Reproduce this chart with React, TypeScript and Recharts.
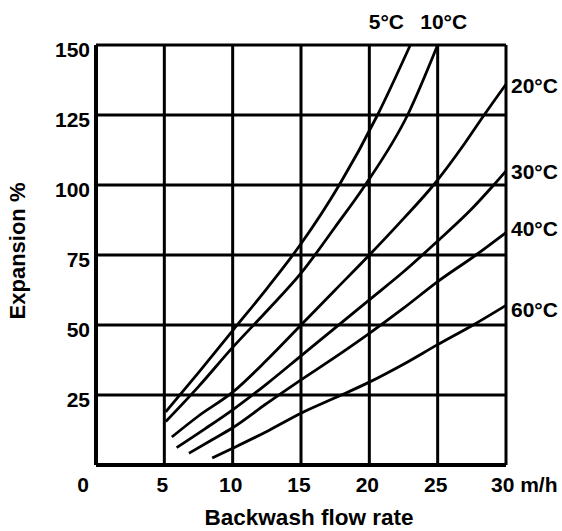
import { CartesianGrid, Label, Line, LineChart, XAxis, YAxis } from "recharts";

// backwash flow rate (m/h) vs bed expansion (%) at several water temperatures
const xTicks = [0, 5, 10, 15, 20, 25, 30];
const yTicks = [25, 50, 75, 100, 125, 150];

const temps = ["5°C", "10°C", "20°C", "30°C", "40°C", "60°C"];

const flow5 = [5.1, 7.5, 10, 12.5, 15, 17.8, 20.6, 23];
const exp5 = [19, 33, 48, 63, 79, 100, 125, 150];

const flow10 = [5.1, 7.5, 10, 12.5, 15, 17.5, 19.7, 22.8, 25];
const exp10 = [15.5, 28, 42, 55, 68.5, 85, 100, 125, 150];

const flow20 = [5.55, 7.5, 10, 12.5, 15, 17.5, 20, 22.5, 24.7, 27, 28.4, 30];
const exp20 = [10, 17.5, 26, 37.5, 50, 62.5, 75, 88, 100, 115, 125, 136];

const flow30 = [5.9, 8, 10, 12.5, 15, 17.5, 20, 22.5, 25, 27.5, 29.1, 30];
const exp30 = [6.2, 13, 19.7, 29, 39, 49, 59, 69, 80, 91.5, 100, 105];

const flow40 = [6.8, 8.5, 10, 12.5, 15, 17.5, 20, 22.5, 25, 27.8, 30];
const exp40 = [4.2, 9, 13.3, 22, 30.4, 38.5, 47, 56, 65.5, 75, 83];

const flow60 = [8.5, 10, 12.5, 15, 17.5, 20, 22.5, 25, 27.6, 30];
const exp60 = [2.5, 6, 12, 18.5, 24, 29.6, 36, 43, 50, 57];

const toPoints = (xs: number[], ys: number[]) => xs.map((x, i) => ({ x, y: ys[i] }));

const curves = [
  toPoints(flow5, exp5),
  toPoints(flow10, exp10),
  toPoints(flow20, exp20),
  toPoints(flow30, exp30),
  toPoints(flow40, exp40),
  toPoints(flow60, exp60),
];

// where each temperature label sits relative to its curve's last point
const labelOffsets = [
  { dx: -24, dy: -24, anchor: "middle" },
  { dx: 6, dy: -24, anchor: "middle" },
  { dx: 5, dy: 1, anchor: "start" },
  { dx: 5, dy: 0, anchor: "start" },
  { dx: 5, dy: -4, anchor: "start" },
  { dx: 5, dy: 4, anchor: "start" },
];

const FONT = "'Liberation Sans', Arial, sans-serif";

function endLabel(text: string, count: number, off: { dx: number; dy: number; anchor: string }) {
  return (props: any) => {
    if (props.index !== count - 1) return null;
    return (
      <text
        key={text}
        x={props.x + off.dx}
        y={props.y + off.dy}
        dy="0.36em"
        textAnchor={off.anchor}
        fontFamily={FONT}
        fontWeight="bold"
        fontSize={21}
        fill="#000"
      >
        {text}
      </text>
    );
  };
}

function XTick({ x, y, payload }: any) {
  const v = payload.value;
  if (v === 30) {
    return (
      <text x={x - 15} y={y + 27} textAnchor="start" fontFamily={FONT} fontWeight="bold" fontSize={21} fill="#000">
        30 m/h
      </text>
    );
  }
  const shift = v === 0 ? -13 : -2;
  return (
    <text x={x + shift} y={y + 27} textAnchor="middle" fontFamily={FONT} fontWeight="bold" fontSize={21} fill="#000">
      {v}
    </text>
  );
}

function YTick({ x, y, payload }: any) {
  return (
    <text x={x - 6} y={y + 12} textAnchor="end" fontFamily={FONT} fontWeight="bold" fontSize={21} fill="#000">
      {payload.value}
    </text>
  );
}

export default function App() {
  return (
    <div style={{ position: "absolute", left: 0, top: 0, background: "#fff" }}>
      <LineChart width={562} height={531} margin={{ top: 45, right: 56, bottom: 0, left: 0 }}>
        <CartesianGrid stroke="#000" strokeWidth={3} />
        <XAxis
          type="number"
          dataKey="x"
          domain={[0, 30]}
          ticks={xTicks}
          height={66}
          tickLine={false}
          tickSize={0}
          tickMargin={0}
          tick={<XTick />}
          axisLine={{ stroke: "#000", strokeWidth: 4 }}
        >
          <Label
            value="Backwash flow rate"
            position="insideBottom"
            offset={6}
            dx={8}
            style={{ fontFamily: FONT, fontWeight: "bold", fontSize: 22.5, fill: "#000" }}
          />
        </XAxis>
        <YAxis
          type="number"
          dataKey="y"
          domain={[0, 150]}
          ticks={yTicks}
          width={96}
          tickLine={false}
          tickSize={0}
          tickMargin={0}
          tick={<YTick />}
          axisLine={{ stroke: "#000", strokeWidth: 4 }}
        >
          <Label
            value="Expansion %"
            angle={-90}
            position="insideLeft"
            offset={17}
            dy={-4}
            style={{ fontFamily: FONT, fontWeight: "bold", fontSize: 22, fill: "#000", textAnchor: "middle" }}
          />
        </YAxis>
        {curves.map((pts, i) => (
          <Line
            key={temps[i]}
            data={pts}
            dataKey="y"
            type="monotone"
            stroke="#000"
            strokeWidth={2.8}
            dot={false}
            activeDot={false}
            isAnimationActive={false}
            label={endLabel(temps[i], pts.length, labelOffsets[i])}
          />
        ))}
      </LineChart>
    </div>
  );
}
